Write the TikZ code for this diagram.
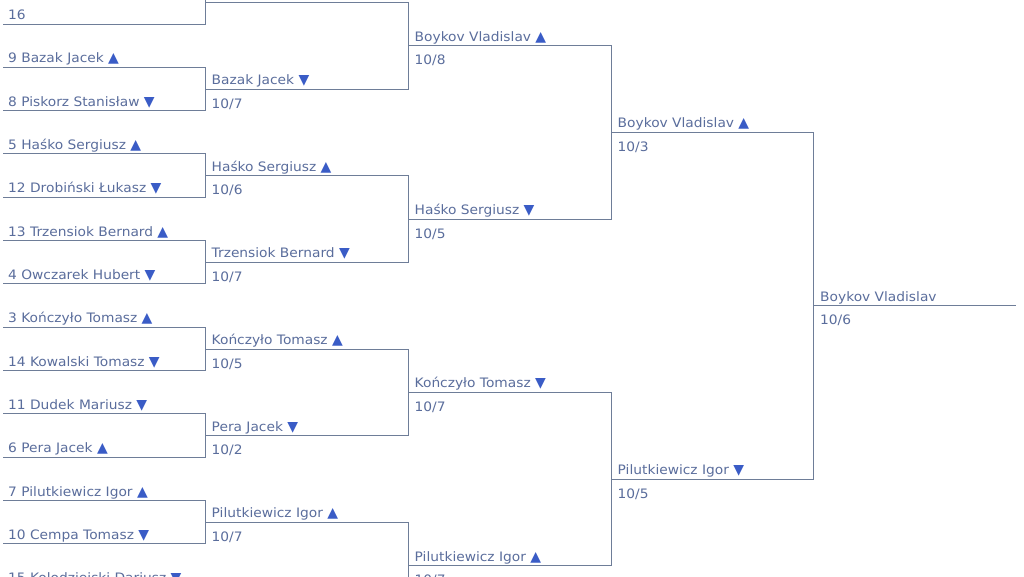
\documentclass[tikz,border=0pt]{standalone}
\usepackage{fontspec}
\setmainfont{DejaVu Sans}[FakeStretch=1.06]
\newfontfamily\trifont{DejaVu Sans}
\definecolor{ln}{HTML}{6E7D98}
\definecolor{txt}{HTML}{5A6D9C}
\definecolor{tri}{HTML}{3A5CC6}
\newcommand\tup{{\color{tri}\trifont\fontsize{14}{15}\selectfont ▲}}
\newcommand\tdn{{\color{tri}\trifont\fontsize{14}{15}\selectfont ▼}}
\begin{document}
\begin{tikzpicture}[x=1pt,y=-1pt,
  bracket/.style={draw=ln,line width=1pt},
  nm/.style={anchor=base west,inner sep=0pt,text=txt,font=\fontsize{13}{15}\selectfont},
  sc/.style={anchor=base west,inner sep=0pt,text=txt,font=\fontsize{13}{15}\selectfont}]
\useasboundingbox (0,0) rectangle (1024,576);
\clip (0,0) rectangle (1024,576);
\fill[white] (0,0) rectangle (1024,576);
% coordinates
\foreach \i in {0,...,15}{
  \coordinate (a1-\i) at (3,{-19.33+43.33*\i});
  \coordinate (b1-\i) at (205,{-19.33+43.33*\i});}
\foreach \i in {0,...,7}{
  \coordinate (a2-\i) at (205,{2.33+86.67*\i});
  \coordinate (b2-\i) at (408,{2.33+86.67*\i});}
\foreach \i in {0,...,3}{
  \coordinate (a3-\i) at (408,{45.67+173.33*\i});
  \coordinate (b3-\i) at (611,{45.67+173.33*\i});}
\foreach \i in {0,1}{
  \coordinate (a4-\i) at (611,{132.33+346.67*\i});
  \coordinate (b4-\i) at (813,{132.33+346.67*\i});}
\coordinate (a5-0) at (813,305.67);
\coordinate (b5-0) at (1016,305.67);
% brackets
\foreach \k [evaluate=\k as \p using int(2*\k), evaluate=\k as \q using int(2*\k+1)] in {0,...,7}
  \draw[bracket] (a1-\p) -- (b1-\p) -- (b1-\q) -- (a1-\q);
\foreach \k [evaluate=\k as \p using int(2*\k), evaluate=\k as \q using int(2*\k+1)] in {0,...,3}
  \draw[bracket] (a2-\p) -- (b2-\p) -- (b2-\q) -- (a2-\q);
\foreach \k [evaluate=\k as \p using int(2*\k), evaluate=\k as \q using int(2*\k+1)] in {0,1}
  \draw[bracket] (a3-\p) -- (b3-\p) -- (b3-\q) -- (a3-\q);
\draw[bracket] (a4-0) -- (b4-0) -- (b4-1) -- (a4-1);
\draw[bracket] (a5-0) -- (b5-0);
% round 1 names
\node[nm] (l1-1)  at ([shift={(5,-4.6)}]a1-1)  {16};
\node[nm] (l1-2)  at ([shift={(5,-4.6)}]a1-2)  {9 Bazak Jacek \tup};
\node[nm] (l1-3)  at ([shift={(5,-4.6)}]a1-3)  {8 Piskorz Stanisław \tdn};
\node[nm] (l1-4)  at ([shift={(5,-4.6)}]a1-4)  {5 Haśko Sergiusz \tup};
\node[nm] (l1-5)  at ([shift={(5,-4.6)}]a1-5)  {12 Drobiński Łukasz \tdn};
\node[nm] (l1-6)  at ([shift={(5,-4.6)}]a1-6)  {13 Trzensiok Bernard \tup};
\node[nm] (l1-7)  at ([shift={(5,-4.6)}]a1-7)  {4 Owczarek Hubert \tdn};
\node[nm] (l1-8)  at ([shift={(5,-4.6)}]a1-8)  {3 Kończyło Tomasz \tup};
\node[nm] (l1-9)  at ([shift={(5,-4.6)}]a1-9)  {14 Kowalski Tomasz \tdn};
\node[nm] (l1-10) at ([shift={(5,-4.6)}]a1-10) {11 Dudek Mariusz \tdn};
\node[nm] (l1-11) at ([shift={(5,-4.6)}]a1-11) {6 Pera Jacek \tup};
\node[nm] (l1-12) at ([shift={(5,-4.6)}]a1-12) {7 Pilutkiewicz Igor \tup};
\node[nm] (l1-13) at ([shift={(5,-4.6)}]a1-13) {10 Cempa Tomasz \tdn};
\node[nm] (l1-14) at ([shift={(5,-4.6)}]a1-14) {15 Kolodziejski Dariusz \tdn};
% round 2
\node[nm] (l2-0) at ([shift={(6.5,-4.6)}]a2-0) {Boykov Vladislav};
\node[nm] (l2-1) at ([shift={(6.5,-4.6)}]a2-1) {Bazak Jacek \tdn};
\node[sc] (s2-1) at ([shift={(6.5,19.3)}]a2-1) {10/7};
\node[nm] (l2-2) at ([shift={(6.5,-4.6)}]a2-2) {Haśko Sergiusz \tup};
\node[sc] (s2-2) at ([shift={(6.5,19.3)}]a2-2) {10/6};
\node[nm] (l2-3) at ([shift={(6.5,-4.6)}]a2-3) {Trzensiok Bernard \tdn};
\node[sc] (s2-3) at ([shift={(6.5,19.3)}]a2-3) {10/7};
\node[nm] (l2-4) at ([shift={(6.5,-4.6)}]a2-4) {Kończyło Tomasz \tup};
\node[sc] (s2-4) at ([shift={(6.5,19.3)}]a2-4) {10/5};
\node[nm] (l2-5) at ([shift={(6.5,-4.6)}]a2-5) {Pera Jacek \tdn};
\node[sc] (s2-5) at ([shift={(6.5,19.3)}]a2-5) {10/2};
\node[nm] (l2-6) at ([shift={(6.5,-4.6)}]a2-6) {Pilutkiewicz Igor \tup};
\node[sc] (s2-6) at ([shift={(6.5,19.3)}]a2-6) {10/7};
% round 3
\node[nm] (l3-0) at ([shift={(6.5,-4.6)}]a3-0) {Boykov Vladislav \tup};
\node[sc] (s3-0) at ([shift={(6.5,19.3)}]a3-0) {10/8};
\node[nm] (l3-1) at ([shift={(6.5,-4.6)}]a3-1) {Haśko Sergiusz \tdn};
\node[sc] (s3-1) at ([shift={(6.5,19.3)}]a3-1) {10/5};
\node[nm] (l3-2) at ([shift={(6.5,-4.6)}]a3-2) {Kończyło Tomasz \tdn};
\node[sc] (s3-2) at ([shift={(6.5,19.3)}]a3-2) {10/7};
\node[nm] (l3-3) at ([shift={(6.5,-4.6)}]a3-3) {Pilutkiewicz Igor \tup};
\node[sc] (s3-3) at ([shift={(6.5,19.3)}]a3-3) {10/7};
% round 4
\node[nm] (l4-0) at ([shift={(6.5,-4.6)}]a4-0) {Boykov Vladislav \tup};
\node[sc] (s4-0) at ([shift={(6.5,19.3)}]a4-0) {10/3};
\node[nm] (l4-1) at ([shift={(6.5,-4.6)}]a4-1) {Pilutkiewicz Igor \tdn};
\node[sc] (s4-1) at ([shift={(6.5,19.3)}]a4-1) {10/5};
% final
\node[nm] (l5-0) at ([shift={(7,-4.6)}]a5-0) {Boykov Vladislav};
\node[sc] (s5-0) at ([shift={(7,19.3)}]a5-0) {10/6};
\end{tikzpicture}
\end{document}
